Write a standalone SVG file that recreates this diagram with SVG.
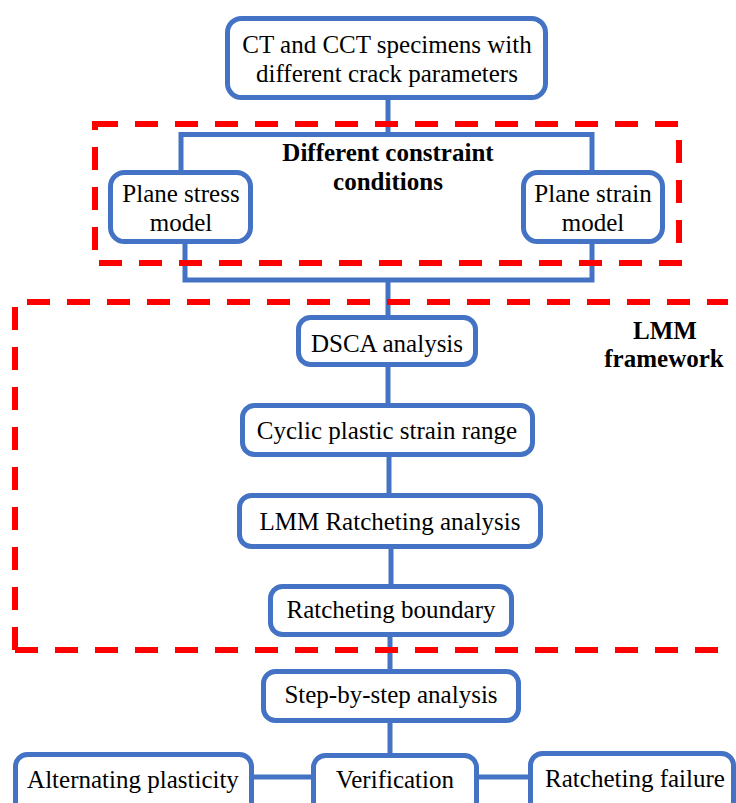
<svg xmlns="http://www.w3.org/2000/svg" width="736" height="803" viewBox="0 0 736 803">
<style>
.box{fill:#fff;stroke:#4472C4;stroke-width:5}
.ln{fill:none;stroke:#4472C4;stroke-width:5}
.dash{fill:none;stroke:#FF0000;stroke-width:6;stroke-dasharray:23 17}
text{font-family:"Liberation Serif","Times New Roman",serif;font-size:25px;fill:#000;text-anchor:middle}
.b{font-weight:bold}
</style>
<rect width="736" height="803" fill="#fff"/>
<g id="connectors">
<line class="ln" x1="388" y1="97" x2="388" y2="134.5"/>
<polyline class="ln" points="181,172 181,134.5 592,134.5 592,172"/>
<polyline class="ln" points="185,241 185,280 592,280 592,242"/>
<line class="ln" x1="388" y1="280" x2="388" y2="317"/>
<line class="ln" x1="388" y1="365" x2="388" y2="405"/>
<line class="ln" x1="389" y1="455" x2="389" y2="495"/>
<line class="ln" x1="391" y1="547" x2="391" y2="586"/>
<line class="ln" x1="390" y1="635" x2="390" y2="671"/>
<line class="ln" x1="390" y1="721" x2="390" y2="755"/>
<line class="ln" x1="252" y1="777" x2="313" y2="777"/>
<line class="ln" x1="476" y1="777" x2="530" y2="777"/>
</g>
<g id="n_top">
<rect class="box" x="227.5" y="18.5" width="318" height="79" rx="14"/>
<text x="387" y="53">CT and CCT specimens with</text>
<text x="387" y="82">different crack parameters</text>
</g>
<g id="n_stress">
<rect class="box" x="110.5" y="172.5" width="140" height="69" rx="14"/>
<text x="181" y="202">Plane stress</text>
<text x="181" y="231">model</text>
</g>
<g id="n_strain">
<rect class="box" x="523.5" y="172.5" width="139" height="69" rx="14"/>
<text x="593" y="202">Plane strain</text>
<text x="593" y="231">model</text>
</g>
<g id="lbl_constraint">
<text class="b" x="388" y="161">Different constraint</text>
<text class="b" x="388" y="190">conditions</text>
</g>
<g id="lbl_lmm">
<text class="b" x="665" y="339">LMM</text>
<text class="b" x="664" y="367">framework</text>
</g>
<g id="n_dsca">
<rect class="box" x="298.5" y="317.5" width="177" height="47" rx="12"/>
<text x="387" y="352">DSCA analysis</text>
</g>
<g id="n_cyclic">
<rect class="box" x="242.5" y="405.5" width="290" height="49" rx="12"/>
<text x="387" y="439">Cyclic plastic strain range</text>
</g>
<g id="n_lmmr">
<rect class="box" x="239.5" y="495.5" width="301" height="51" rx="12"/>
<text x="390" y="530">LMM Ratcheting analysis</text>
</g>
<g id="n_boundary">
<rect class="box" x="270.5" y="586.5" width="241" height="48" rx="12"/>
<text x="391" y="618">Ratcheting boundary</text>
</g>
<g id="n_step">
<rect class="box" x="263.5" y="671.5" width="255" height="49" rx="12"/>
<text x="391" y="703">Step-by-step analysis</text>
</g>
<g id="n_alt">
<rect class="box" x="15.5" y="754.5" width="236" height="60" rx="12"/>
<text x="133" y="788">Alternating plasticity</text>
</g>
<g id="n_verif">
<rect class="box" x="313.5" y="755.5" width="163" height="60" rx="12"/>
<text x="395" y="788">Verification</text>
</g>
<g id="n_fail">
<rect class="box" x="530.5" y="753.5" width="203" height="60" rx="12"/>
<text x="635" y="787">Ratcheting failure</text>
</g>
<g id="frames">
<rect class="dash" x="95" y="124" width="584" height="139"/>
<path class="dash" d="M15,650 V302 H728 M15,650 H728"/>
</g>
</svg>
